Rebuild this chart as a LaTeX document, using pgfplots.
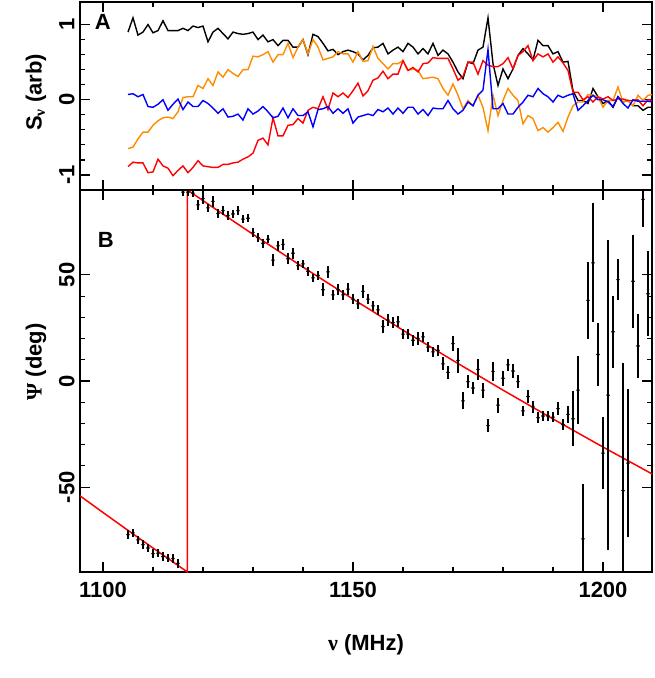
\documentclass[border=0pt]{standalone}
\usepackage{pgfplots}
\usepackage{pgfplotstable}
\pgfplotsset{compat=1.18}
\usepackage{fontspec}
\setmainfont{Liberation Sans}
\newfontfamily\greek{Liberation Serif}
\definecolor{myorange}{RGB}{255,140,0}
\definecolor{myblue}{RGB}{0,0,255}
\definecolor{myred}{RGB}{255,0,0}

\pgfplotstableread{
x k o r b
1105 0.90 -0.65 -0.89 0.07
1106 1.09 -0.63 -0.83 0.08
1107 0.86 -0.52 -0.84 0.04
1108 0.90 -0.43 -0.84 0.07
1109 1.00 -0.43 -0.97 -0.09
1110 0.89 -0.34 -0.96 -0.10
1111 0.92 -0.28 -0.79 -0.06
1112 1.05 -0.24 -0.88 0.00
1113 0.92 -0.23 -0.91 -0.14
1114 0.92 -0.25 -1.01 -0.06
1115 0.92 -0.16 -0.94 0.01
1116 0.95 0.03 -0.88 -0.13
1117 0.92 0.04 -0.97 -0.03
1118 0.98 0.04 -0.90 -0.09
1119 0.96 0.19 -0.81 -0.09
1120 0.98 0.15 -0.88 -0.01
1121 0.77 0.28 -0.89 -0.05
1122 0.90 0.19 -0.90 -0.11
1123 0.95 0.37 -0.90 -0.18
1124 0.88 0.30 -0.86 -0.12
1125 0.81 0.40 -0.86 -0.23
1126 0.90 0.35 -0.84 -0.22
1127 0.88 0.31 -0.83 -0.19
1128 0.87 0.40 -0.79 -0.27
1129 0.88 0.40 -0.76 -0.12
1130 0.90 0.58 -0.71 -0.19
1131 0.80 0.57 -0.54 -0.15
1132 0.86 0.60 -0.51 -0.09
1133 0.77 0.64 -0.60 -0.16
1134 0.80 0.50 -0.24 -0.24
1135 0.72 0.60 -0.48 -0.22
1136 0.79 0.60 -0.48 -0.11
1137 0.79 0.75 -0.34 -0.24
1138 0.70 0.56 -0.33 -0.12
1139 0.70 0.70 -0.25 -0.21
1140 0.80 0.80 -0.31 -0.21
1141 0.60 0.61 -0.14 -0.16
1142 0.87 0.80 -0.10 -0.36
1143 0.84 0.70 -0.12 -0.13
1144 0.75 0.53 0.04 -0.12
1145 0.65 0.55 -0.13 -0.09
1146 0.67 0.57 0.09 -0.18
1147 0.60 0.64 0.04 -0.12
1148 0.64 0.61 0.09 -0.18
1149 0.66 0.61 0.03 -0.12
1150 0.64 0.50 0.12 -0.31
1151 0.61 0.64 0.22 -0.23
1152 0.53 0.51 0.05 -0.21
1153 0.59 0.52 0.12 -0.19
1154 0.69 0.71 0.26 -0.21
1155 0.70 0.55 0.29 -0.13
1156 0.75 0.48 0.38 -0.16
1157 0.61 0.41 0.28 -0.11
1158 0.66 0.48 0.34 -0.19
1159 0.70 0.48 0.34 -0.11
1160 0.64 0.52 0.52 -0.18
1161 0.75 0.39 0.39 -0.10
1162 0.70 0.41 0.43 -0.10
1163 0.61 0.39 0.37 -0.19
1164 0.68 0.28 0.48 -0.13
1165 0.61 0.29 0.49 -0.21
1166 0.75 0.30 0.56 -0.11
1167 0.59 0.28 0.55 -0.12
1168 0.66 0.15 0.55 -0.12
1169 0.61 0.06 0.55 -0.01
1170 0.50 0.21 0.41 -0.12
1171 0.37 0.06 0.26 -0.19
1172 0.28 -0.12 0.31 -0.14
1173 0.50 -0.01 0.50 -0.03
1174 0.48 -0.08 0.50 -0.08
1175 0.66 0.06 0.34 0.06
1176 0.70 -0.10 0.52 0.13
1177 1.09 -0.41 0.46 0.67
1178 0.48 0.06 0.44 -0.12
1179 0.19 -0.21 0.44 -0.12
1180 0.41 -0.01 0.48 -0.05
1181 0.28 0.15 0.56 -0.19
1182 0.41 0.06 0.41 -0.19
1183 0.59 -0.01 0.59 -0.10
1184 0.68 -0.32 0.64 -0.03
1185 0.61 -0.21 0.72 0.06
1186 0.53 -0.25 0.52 0.04
1187 0.79 -0.41 0.61 0.15
1188 0.72 -0.37 0.57 0.08
1189 0.72 -0.43 0.61 0.04
1190 0.61 -0.37 0.50 -0.03
1191 0.64 -0.30 0.57 0.06
1192 0.50 -0.42 0.49 0.03
1193 0.51 -0.23 0.39 0.06
1194 0.12 -0.08 0.10 0.08
1195 -0.01 -0.03 0.10 -0.14
1196 -0.01 -0.03 0.00 -0.08
1197 -0.05 0.07 0.04 -0.01
1198 0.15 0.06 -0.03 0.06
1199 0.04 0.04 0.04 0.00
1200 -0.05 -0.10 0.01 0.00
1201 -0.01 -0.01 0.04 -0.03
1202 -0.10 -0.01 -0.01 -0.09
1203 0.04 0.17 0.01 0.04
1204 -0.03 -0.03 0.01 -0.05
1205 -0.01 -0.01 -0.01 -0.11
1206 -0.08 -0.08 -0.01 0.00
1207 -0.08 0.06 0.00 -0.02
1208 -0.14 -0.01 -0.08 -0.02
1209 -0.10 0.06 0.00 -0.02
1210 -0.10 0.07 -0.01 -0.03
}\topdata

\pgfplotstableread{
x y e
1105 -72.4 2
1106 -71.6 2
1107 -74.9 2
1108 -77.1 2
1109 -78.7 2
1110 -81.3 2
1111 -81.1 2
1112 -82.7 2
1113 -83.5 2
1114 -83.7 2
1115 -85.9 2
1116 89.0 2
1117 89.0 2
1118 88.5 2
1119 83.0 2.5
1120 85.9 2.5
1121 81.6 2
1122 84.6 2.5
1123 79.0 2
1124 80.3 2
1125 77.9 2
1126 78.7 2
1127 80.3 2
1128 76.3 2
1129 76.7 2
1130 70.0 2
1131 67.6 2
1132 64.9 2
1133 66.8 2
1134 57.0 3
1135 63.7 2.5
1136 64.4 2.5
1137 57.6 2.5
1138 60.2 2.5
1139 54.4 2
1140 55.2 2
1141 51.7 2
1142 48.6 2
1143 49.7 2
1144 43.0 3
1145 51.4 3
1146 40.6 2.5
1147 43.0 2.5
1148 40.6 2.5
1149 43.3 3
1150 38.6 2.5
1151 36.3 2.5
1152 42.2 3
1153 38.6 2.5
1154 35.4 2.5
1155 33.5 2.5
1156 25.6 3
1157 28.7 3
1158 27.5 2.5
1159 27.9 2.5
1160 22.1 2.5
1161 22.1 2.5
1162 19.2 2.5
1163 20.0 3
1164 20.8 2.5
1165 16.0 2.5
1166 13.7 2.5
1167 14.4 2.5
1168 8.1 3
1169 4.1 3
1170 17.6 3.5
1171 9.7 6
1172 -9.4 4
1173 -0.3 3
1174 -3.3 3
1175 5.5 5
1176 -4.3 3.5
1177 -21.0 3
1178 4.5 4.5
1179 -11.4 3.5
1180 1.3 3.5
1181 7.6 3
1182 4.7 3.5
1183 -0.3 3
1184 -14.1 2.5
1185 -7.3 3
1186 -12.2 3
1187 -17.3 2.5
1188 -16.5 2.5
1189 -16.5 2.5
1190 -17.0 2.5
1191 -13.0 3
1192 -20.5 2.5
1193 -15.7 4
1194 -17.8 13
1195 -4.3 16
1196 -74.4 26
1197 38.0 18
1198 55.7 28
1199 12.5 15
1200 -34.0 17
1201 -6.7 73
1202 23.2 17
1203 47.8 9.5
1204 -51.7 60
1205 -38.7 35
1206 47.0 22
1207 16.5 15
1208 85.6 13
1209 41.1 20
}\psidata

\pgfplotsset{
  common/.style={
    scale only axis, width=572pt,
    xmin=1095.4, xmax=1209.8,
    xtick={1100,1150,1200}, minor x tick num=4,
    tick align=inside, major tick length=10pt, minor tick length=5pt,
    every tick/.append style={line width=1.2pt, black},
    axis line style={line width=1.4pt},
    tick label style={font=\fontsize{22}{24}\selectfont\bfseries},
    /pgf/number format/assume math mode=true,
    /pgf/number format/1000 sep={},
    label style={font=\fontsize{22}{24}\selectfont\bfseries},
    yticklabel style={rotate=90, anchor=south},
    yticklabel shift=2pt,
    xticklabel shift=7pt,
  }
}

\begin{document}
\begin{tikzpicture}
\begin{axis}[common, at={(0pt,382pt)}, anchor=south west, height=188pt,
  ymin=-1.2, ymax=1.3, ytick={-1,0,1}, minor y tick num=4,
  xticklabels={},
  ylabel={S\textsubscript{\greek ν} (arb)},
  ylabel style={at={(axis description cs:-0.067,0.52)}, anchor=base, rotate=0},
  every axis plot/.append style={line width=1.4pt, no marks}]
\addplot[black] table[x=x, y=k] {\topdata};
\addplot[myorange] table[x=x, y=o] {\topdata};
\addplot[myred] table[x=x, y=r] {\topdata};
\addplot[myblue] table[x=x, y=b] {\topdata};
\node[font=\fontsize{22}{24}\selectfont\bfseries, anchor=center] at (rel axis cs:0.040,0.894) {A};
\end{axis}

\begin{axis}[common, at={(0pt,0pt)}, anchor=south west, height=382pt,
  ymin=-90, ymax=90, ytick={-50,0,50}, minor y tick num=4,
  xlabel={{\greek ν} (MHz)},
  xlabel style={at={(axis description cs:0.5,0)}, anchor=base, yshift=-78pt},
  ylabel={{\greek Ψ} (deg)},
  ylabel style={at={(axis description cs:-0.067,0.55)}, anchor=base, rotate=0}]
\addplot[myred, line width=1.5pt, no marks] coordinates {
(1095.4,-54.10) (1100,-61.96) (1105,-70.39) (1110,-78.71) (1115,-86.91) (1116.9,-90)
(1116.9,90) (1120,84.99) (1130,69.12) (1140,53.66) (1150,38.60) (1160,23.93)
(1170,9.64) (1180,-4.30) (1190,-17.88) (1200,-31.12) (1209.8,-43.78)};
\addplot[black, only marks, mark=*, mark size=1.5pt,
  error bars/.cd, y dir=both, y explicit, error mark=none,
  error bar style={line width=1.3pt, black}]
  table[x=x, y=y, y error=e] {\psidata};
\node[font=\fontsize{22}{24}\selectfont\bfseries, anchor=center] at (rel axis cs:0.045,0.869) {B};
\end{axis}
\pgfresetboundingbox
\useasboundingbox (-80pt,-106pt) rectangle (574pt,572pt);
\end{tikzpicture}
\end{document}
